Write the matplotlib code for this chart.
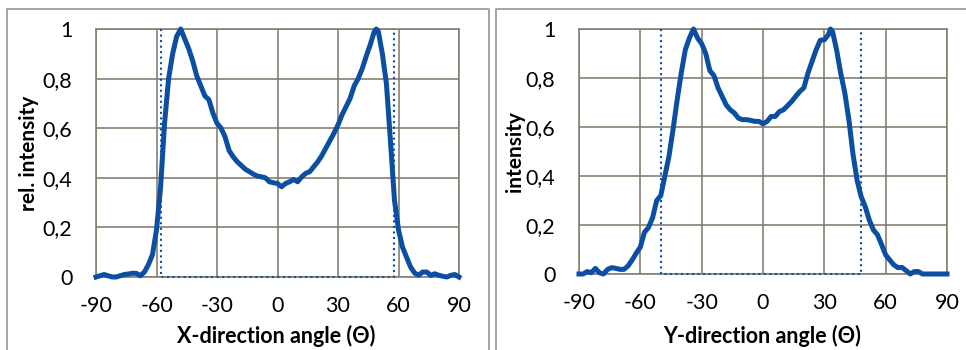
import numpy as np
import matplotlib
matplotlib.use('Agg')
import matplotlib.pyplot as plt
from matplotlib.ticker import FuncFormatter
from matplotlib.lines import Line2D

# X-direction profile
x_angle = [-90, -88, -86, -84, -82, -80, -78, -76, -74, -72, -70, -68, -66, -64, -62,
           -60, -58, -56, -54, -52, -50, -48, -46, -44, -42, -40, -38, -36, -34, -32,
           -30, -28, -26, -24, -22, -20, -18, -16, -14, -12, -10, -8, -6, -4, -2,
           0, 2, 4, 6, 8, 10, 12, 14, 16, 18, 20, 22, 24, 26, 28,
           30, 32, 34, 36, 38, 40, 42, 44, 46, 48, 49, 50, 52, 54, 56, 58,
           60, 62, 64, 66, 68, 70, 72, 74, 76, 78, 80, 82, 84, 86, 88, 90]
x_intensity = [0.0, 0.005, 0.01, 0.005, 0.0, 0.0, 0.005, 0.01, 0.012, 0.015, 0.015, 0.005, 0.02, 0.05, 0.09,
               0.19, 0.36, 0.62, 0.8, 0.9, 0.97, 1.0, 0.96, 0.92, 0.87, 0.81, 0.77, 0.73, 0.715, 0.66,
               0.62, 0.6, 0.565, 0.51, 0.485, 0.465, 0.45, 0.435, 0.425, 0.415, 0.407, 0.404, 0.4, 0.384, 0.38,
               0.377, 0.364, 0.377, 0.384, 0.393, 0.384, 0.404, 0.418, 0.425, 0.445, 0.465, 0.49, 0.52, 0.55, 0.58,
               0.613, 0.654, 0.687, 0.72, 0.77, 0.8, 0.84, 0.89, 0.937, 0.99, 1.0, 0.99, 0.9, 0.78, 0.55, 0.31,
               0.19, 0.12, 0.08, 0.04, 0.016, 0.007, 0.02, 0.02, 0.007, 0.013, 0.007, 0.003, 0.0, 0.007, 0.01, 0.0]
x_bounds = [-58, 58]

# Y-direction profile
y_angle = [-90, -88, -86, -84, -82, -80, -78, -76, -74, -72, -70, -68, -66, -64, -62,
           -60, -58, -56, -54, -52, -50, -48, -46, -44, -42, -40, -38, -36, -34, -32,
           -30, -28, -26, -24, -22, -20, -18, -16, -14, -12, -10, -8, -6, -4, -2,
           0, 2, 4, 6, 8, 10, 12, 14, 16, 18, 20, 22, 24, 26, 28,
           30, 32, 33, 34, 36, 38, 40, 42, 44, 46, 48, 50, 52, 54, 56, 58,
           60, 62, 64, 66, 68, 70, 72, 74, 76, 78, 80, 82, 84, 86, 88, 90]
y_intensity = [0.0, 0.0, 0.01, 0.005, 0.023, 0.005, 0.0, 0.019, 0.026, 0.023, 0.019, 0.019, 0.033, 0.057, 0.085,
               0.11, 0.17, 0.19, 0.23, 0.3, 0.32, 0.4, 0.48, 0.59, 0.71, 0.82, 0.915, 0.963, 1.0, 0.963,
               0.94, 0.9, 0.83, 0.81, 0.76, 0.725, 0.69, 0.67, 0.657, 0.636, 0.63, 0.63, 0.627, 0.623, 0.623,
               0.613, 0.623, 0.643, 0.643, 0.663, 0.67, 0.687, 0.704, 0.725, 0.745, 0.76, 0.82, 0.868, 0.915, 0.954,
               0.956, 0.977, 1.0, 0.99, 0.915, 0.82, 0.74, 0.63, 0.49, 0.384, 0.316, 0.275, 0.22, 0.18, 0.16, 0.12,
               0.078, 0.057, 0.037, 0.026, 0.027, 0.014, 0.0, 0.01, 0.01, 0.0, 0.0, 0.0, 0.0, 0.0, 0.0, 0.0]
y_bounds = [-50, 48]

x_ticks = [-90, -60, -30, 0, 30, 60, 90]
y_ticks = [0, 0.2, 0.4, 0.6, 0.8, 1]

LINE_COLOR = '#0b4ea2'
GRID_COLOR = '#877f70'
FRAME_COLOR = '#a39d92'
W, H = 966, 350

plt.rcParams['font.family'] = ['Lato', 'DejaVu Sans']
plt.rcParams['axes.unicode_minus'] = False


def comma_fmt(v, pos):
    if abs(v) < 1e-9:
        return '0'
    if abs(v - 1) < 1e-9:
        return '1'
    return '{0:.1f}'.format(v).replace('.', ',')


def pix_rect(left, top, right, bottom):
    return [left / W, 1 - bottom / H, (right - left) / W, (bottom - top) / H]


def draw_panel(ax, angle, intensity, bounds):
    ax.set_xlim(-90, 90)
    ax.set_ylim(0, 1)
    ax.set_xticks(x_ticks)
    ax.set_yticks(y_ticks)
    ax.yaxis.set_major_formatter(FuncFormatter(comma_fmt))
    ax.grid(True, color=GRID_COLOR, lw=1.2)
    ax.set_axisbelow(True)
    for s in ax.spines.values():
        s.set_color(GRID_COLOR)
        s.set_linewidth(1.2)
    ax.tick_params(length=0, labelsize=15.5)
    ax.tick_params(axis='y', pad=17)
    ax.tick_params(axis='x', pad=14)
    lo, hi = bounds
    ax.plot([lo, lo, hi, hi], [1, 0, 0, 1], ':', color=LINE_COLOR, lw=1.5, clip_on=False, zorder=3)
    ax.plot(angle, intensity, '-', color=LINE_COLOR, lw=3.6, solid_joinstyle='round', clip_on=False, zorder=4)


def main():
    fig = plt.figure(figsize=(W / 100, H / 100), dpi=100)

    # outer frames
    for xs, ys in [([7, 7, 489, 489], [H, 9, 9, H]), ([496, 496, W + 5], [H, 9, 9])]:
        fig.add_artist(Line2D([x / W for x in xs], [1 - y / H for y in ys],
                              color=FRAME_COLOR, lw=1.3, transform=fig.transFigure))

    ax1 = fig.add_axes(pix_rect(96, 29, 459, 277))
    ax2 = fig.add_axes(pix_rect(579, 29, 947, 274))

    draw_panel(ax1, x_angle, x_intensity, x_bounds)
    draw_panel(ax2, y_angle, y_intensity, y_bounds)

    fig.text(276 / W, 1 - 336 / H, 'X-direction angle (Θ)', ha='center', va='center',
             fontsize=15.5, fontweight='bold')
    fig.text(762 / W, 1 - 336 / H, 'Y-direction angle (Θ)', ha='center', va='center',
             fontsize=15.5, fontweight='bold')
    fig.text(29 / W, 1 - 153 / H, 'rel. intensity', ha='center', va='center', rotation=90,
             fontsize=15, fontweight='bold')
    fig.text(515 / W, 1 - 152 / H, 'intensity', ha='center', va='center', rotation=90,
             fontsize=15, fontweight='bold')

    fig.savefig('out.png', dpi=100)


if __name__ == '__main__':
    main()
